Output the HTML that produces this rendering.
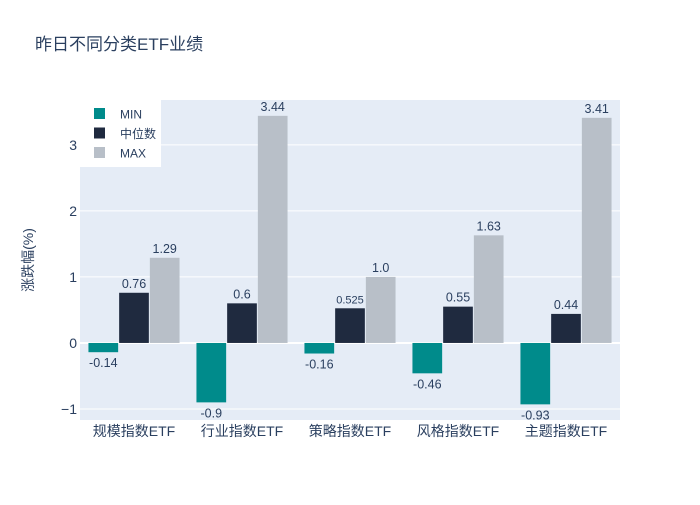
<!DOCTYPE html>
<html><head><meta charset="utf-8"><style>
body{margin:0;background:#fff}
text{font-family:"Liberation Sans","Noto Sans CJK SC",sans-serif;fill:#2a3f5f}
</style></head><body>
<svg id="c" width="700" height="500"></svg>
<script>
const categories=["规模指数ETF","行业指数ETF","策略指数ETF","风格指数ETF","主题指数ETF"];
const minVals=[-0.14,-0.9,-0.16,-0.46,-0.93];
const medVals=[0.76,0.6,0.525,0.55,0.44];
const maxVals=[1.29,3.44,1.0,1.63,3.41];
const minLabels=["-0.14","-0.9","-0.16","-0.46","-0.93"];
const medLabels=["0.76","0.6","0.525","0.55","0.44"];
const maxLabels=["1.29","3.44","1.0","1.63","3.41"];
const yTicks=[-1,0,1,2,3];
const yTickLabels=["−1","0","1","2","3"];
const NS="http://www.w3.org/2000/svg",svg=document.getElementById('c');
const L=80,R=620,T=100,B=420,yMin=-1.167,yMax=3.68;
const y=v=>B-(v-yMin)/(yMax-yMin)*(B-T);
const bw=(R-L)/categories.length;
const xc=i=>L+bw*(i+0.5);
function el(t,a,p){const e=document.createElementNS(NS,t);for(const k in a)e.setAttribute(k,a[k]);(p||svg).appendChild(e);return e;}
const bg=el('rect',{x:L,y:T,width:R-L,height:B-T,fill:'#e5ecf6'});


yTicks.forEach((t,i)=>{
 const g=el('line',{x1:L,x2:R,y1:y(t),y2:y(t),stroke:'#fff','stroke-width':t===0?2:1});
 
 
 const tx=el('text',{x:L-3,y:y(t)+5,'text-anchor':'end','font-size':14});
 tx.textContent=yTickLabels[i];
 
 
});
const series=[{v:minVals,l:minLabels,c:'#008b8b',n:'min'},{v:medVals,l:medLabels,c:'#1f2a3f',n:'median'},{v:maxVals,l:maxLabels,c:'#b8bfc8',n:'max'}];
const w=30.7,gw=w*3;
series.forEach((s,si)=>{
 s.v.forEach((v,i)=>{
  const x0=xc(i)-gw/2+si*w;
  const r=el('rect',{x:x0+0.5,y:Math.min(y(v),y(0)),width:w-1,height:Math.abs(y(v)-y(0)),fill:s.c});
  
  
  const dec=(s.l[i].split('.')[1]||'').length;
  const fs=dec>2?11:12.5;
  const t=el('text',{x:x0+w/2,y:v>=0?y(v)-5:y(v)+15,'text-anchor':'middle','font-size':fs});
  t.textContent=s.l[i];
  
  
 });
});
categories.forEach((c,i)=>{
 const t=el('text',{x:xc(i),y:436,'text-anchor':'middle','font-size':14});
 t.textContent=c;
 
 
});
const title=el('text',{x:35,y:50,'font-size':17});
title.textContent='昨日不同分类ETF业绩';


const yt=el('text',{x:0,y:0,'font-size':14,'text-anchor':'middle',transform:'translate(33,260) rotate(-90)'});
yt.textContent='涨跌幅(%)';


const lg=el('g',{});


el('rect',{x:80,y:100,width:81,height:67,fill:'#fff'},lg);
['MIN','中位数','MAX'].forEach((n,i)=>{
 const yy=114+i*19.5;
 const sw=el('rect',{x:94,y:yy-6,width:11,height:11,fill:series[i].c},lg);
 
 
 const t=el('text',{x:120,y:yy+4.5,'font-size':12},lg);
 t.textContent=n;
 
 
});
</script>
</body></html>
